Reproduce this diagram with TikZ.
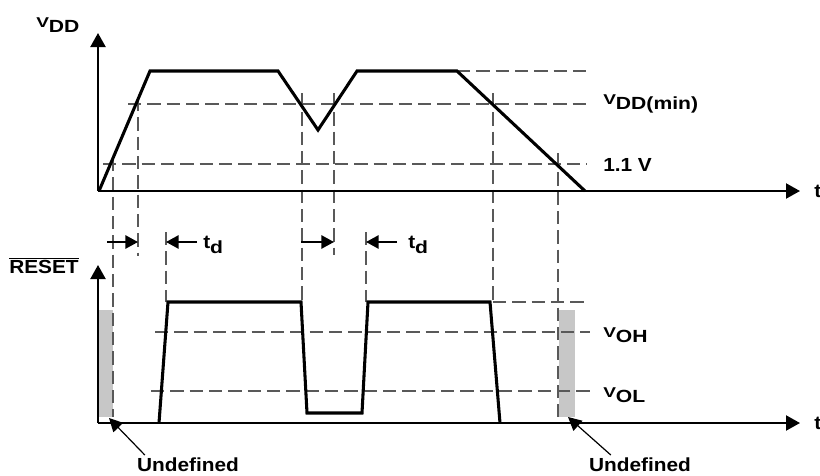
\documentclass[tikz,border=0pt]{standalone}
\usepackage{fontspec}
\setmainfont{Liberation Sans}
\usetikzlibrary{arrows.meta}
\newcommand\mainTxt[1]{\scalebox{1.1}[1]{#1}}
\newcommand\subTxt[1]{\raisebox{-4pt}{\fontsize{13.2}{15}\selectfont\scalebox{1.2}[1]{#1}}}
\newcommand\smallV{{\fontsize{13}{15}\selectfont\scalebox{1.1}[0.82]{V}}}
\newcommand\mysubV[1]{\smallV\subTxt{#1}}
\begin{document}
\begin{tikzpicture}[x=0.75pt,y=-0.75pt,
  lbl/.style={font=\fontsize{14.2}{17}\selectfont\bfseries, inner sep=0pt, anchor=base west},
  axis/.style={line width=1.6pt, -{Triangle[length=10.5pt,width=11.25pt]}},
  wave/.style={line width=2.3pt, line join=miter},
  guide/.style={line width=0.8pt, draw=black!65, dash pattern=on 10pt off 4.5pt},
  tdarrow/.style={line width=1.3pt, -{Triangle[length=9.5pt,width=10pt]}},
  undefarrow/.style={line width=0.9pt, -{Triangle[length=10pt,width=10pt]}},
  graybar/.style={fill=black!22, draw=none}]
\useasboundingbox (0,0) rectangle (820,475);
% gray undefined bars
\fill[graybar] (98,310) rectangle (113,417);
\fill[graybar] (559,310) rectangle (575,417);
% coordinates
\coordinate (o1) at (98,191);
\coordinate (y1) at (98,33);
\coordinate (x1) at (800,191);
\coordinate (o2) at (98,423);
\coordinate (y2) at (98,265);
\coordinate (x2) at (800,423);
% horizontal guides (top)
\draw[guide] (457,71) -- (587,71);
\draw[guide] (128,104) -- (587,104);
\draw[guide] (103,164) -- (587,164);
% horizontal guides (bottom)
\draw[guide] (493,302) -- (587,302);
\draw[guide] (155,332) -- (590,332);
\draw[guide] (151,391) -- (590,391);
% vertical guides
\draw[guide] (113,158) -- (113,417);
\draw[guide] (138,98) -- (138,256);
\draw[guide] (166,232) -- (166,302);
\draw[guide] (302,93) -- (302,302);
\draw[guide] (334,93) -- (334,255);
\draw[guide] (366,232) -- (366,302);
\draw[guide] (493,93) -- (493,302);
\draw[guide] (558,153) -- (558,417);
% axes
\draw[axis] (o1) -- (y1);
\draw[axis] (o1) -- (x1);
\draw[axis] (o2) -- (y2);
\draw[axis] (o2) -- (x2);
% VDD waveform
\draw[wave] (99,191) -- (150,71) -- (278,71) -- (318,130) -- (357,71) -- (457,71) -- (585,191);
% RESET waveform
\draw[wave] (159,423) -- (168,302) -- (301,302) -- (307,413) -- (362,413) -- (368,302) -- (490,302) -- (500,423);
% td arrows
\coordinate (a1) at (107,242); \coordinate (a1e) at (138,242);
\coordinate (a2) at (197,242); \coordinate (a2e) at (166,242);
\coordinate (a3) at (301,242); \coordinate (a3e) at (334,242);
\coordinate (a4) at (397,242); \coordinate (a4e) at (366,242);
\draw[tdarrow] (a1) -- (a1e);
\draw[tdarrow] (a2) -- (a2e);
\draw[tdarrow] (a3) -- (a3e);
\draw[tdarrow] (a4) -- (a4e);
% labels
\node[lbl] (vdd) at (36,27) {\mysubV{DD}};
\node[lbl] (vddmin) at (603,104) {\mysubV{DD(min)}};
\node[lbl] (v11) at (603,171) {\mainTxt{1.1 V}};
\node[lbl] (t1) at (814,197) {\mainTxt{t}};
\node[lbl] (t2) at (814,429) {\mainTxt{t}};
\node[lbl] (reset) at (9,273) {$\overline{\mbox{\mainTxt{RESET}}}$};
\node[lbl] (td1) at (203,248) {\mainTxt{t}\subTxt{d}};
\node[lbl] (td2) at (408,248) {\mainTxt{t}\subTxt{d}};
\node[lbl] (voh) at (603,337) {\mysubV{OH}};
\node[lbl] (vol) at (603,397) {\mysubV{OL}};
\node[lbl, anchor=base] (und1) at (188,471) {\mainTxt{Undefined}};
\node[lbl, anchor=base] (und2) at (640,471) {\mainTxt{Undefined}};
\coordinate (u1) at (109,418);
\coordinate (u2) at (568,417);
\draw[undefarrow] (und1.north west) ++(8,-2) coordinate (u1s) (u1s) -- (u1);
\draw[undefarrow] (und2.north west) ++(22,-2) coordinate (u2s) (u2s) -- (u2);
\end{tikzpicture}
\end{document}
